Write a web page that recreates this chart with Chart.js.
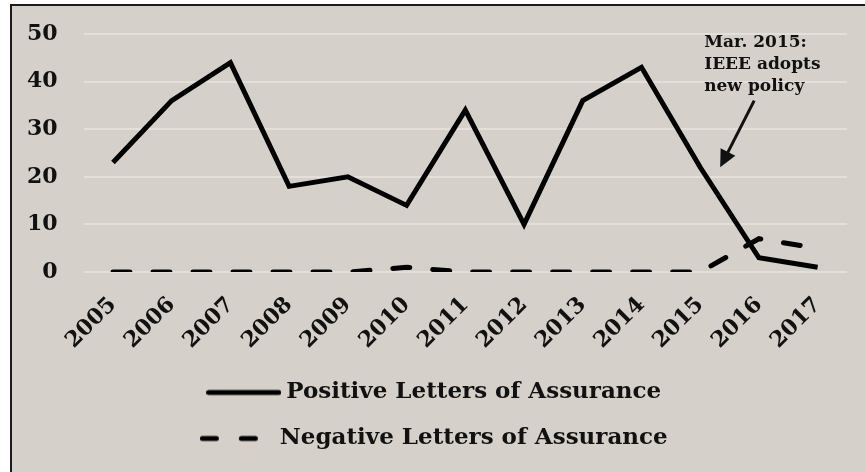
<!DOCTYPE html>
<html>
<head>
<meta charset="utf-8">
<script src="https://cdn.jsdelivr.net/npm/chart.js@4"></script>
<style>
    html, body { margin: 0; background: #ffffff; }
    #frame {
        position: absolute; left: 10px; top: 4px;
        width: 880px; height: 490px;
        border-top: 2px solid #1b1b1b; border-left: 2px solid #1b1b1b;
        background: #d5d1ca;
    }
    #chart { display: block; }
</style>
</head>
<body>
<div id="frame"><canvas id="chart" width="853" height="466"></canvas></div>
<script>
const years = ['2005', '2006', '2007', '2008', '2009', '2010', '2011', '2012', '2013', '2014', '2015', '2016', '2017'];
const positiveLetters = [23, 36, 44, 18, 20, 14, 34, 10, 36, 43, 22, 3, 1];
const negativeLetters = [0, 0, 0, 0, 0, 1, 0, 0, 0, 0, 0, 7, 5];
const seriesNames = ['Positive Letters of Assurance', 'Negative Letters of Assurance'];
const noteLines = ['Mar. 2015:', 'IEEE adopts', 'new policy'];
const noteYear = '2015';

const FONT = '"DejaVu Serif", "Liberation Serif", serif';

// small canvases used as legend symbols (solid / dashed line)
function lineSymbol(dash) {
    const c = document.createElement('canvas');
    c.width = 75;
    c.height = 10;
    const g = c.getContext('2d');
    g.strokeStyle = '#000';
    g.lineWidth = 5;
    g.lineCap = 'round';
    g.setLineDash(dash);
    g.beginPath();
    g.moveTo(2.5, 5);
    g.lineTo(72.5, 5);
    g.stroke();
    return c;
}
const symbols = [lineSymbol([]), lineSymbol([14, 25])];

const notePlugin = {
    id: 'note',
    afterDatasetsDraw(chart) {
        const ctx = chart.ctx;
        const x = chart.scales.x;
        const y = chart.scales.y;
        const x0 = x.getPixelForValue(years.indexOf(noteYear));
        ctx.save();
        ctx.fillStyle = '#111';
        ctx.font = 'bold 17px ' + FONT;
        ctx.textAlign = 'left';
        ctx.textBaseline = 'alphabetic';
        noteLines.forEach((t, i) => {
            ctx.fillText(t, x0 + 4, y.getPixelForValue(50) + 13 + i * 22);
        });

        // arrow
        const tx = x0 + 54, ty = y.getPixelForValue(36);
        const hx = x0 + 20, hy = y.getPixelForValue(22);
        const ang = Math.atan2(hy - ty, hx - tx);
        ctx.strokeStyle = '#111';
        ctx.lineWidth = 3;
        ctx.beginPath();
        ctx.moveTo(tx, ty);
        ctx.lineTo(hx - Math.cos(ang) * 12, hy - Math.sin(ang) * 12);
        ctx.stroke();
        ctx.beginPath();
        ctx.moveTo(hx, hy);
        ctx.lineTo(hx - Math.cos(ang - 0.45) * 19, hy - Math.sin(ang - 0.45) * 19);
        ctx.lineTo(hx - Math.cos(ang + 0.45) * 19, hy - Math.sin(ang + 0.45) * 19);
        ctx.closePath();
        ctx.fill();
        ctx.restore();
    }
};

new Chart(document.getElementById('chart'), {
    type: 'line',
    data: {
        labels: years,
        datasets: [
            {
                label: seriesNames[0],
                data: positiveLetters,
                borderColor: '#000',
                backgroundColor: '#000',
                borderWidth: 5,
                pointRadius: 0,
                tension: 0
            },
            {
                label: seriesNames[1],
                data: negativeLetters,
                borderColor: '#000',
                backgroundColor: '#000',
                borderWidth: 5,
                borderDash: [17, 23],
                borderCapStyle: 'round',
                pointRadius: 0,
                tension: 0
            }
        ]
    },
    options: {
        responsive: false,
        animation: false,
        layout: { padding: { left: 15, right: 18, top: 28, bottom: 12 } },
        scales: {
            x: {
                offset: true,
                grid: { display: false },
                border: { display: false },
                ticks: {
                    color: '#111',
                    font: { family: FONT, size: 22, weight: 'bold' },
                    minRotation: 45,
                    maxRotation: 45,
                    padding: 12
                },
                // rotated labels may overlap the y axis area, as in the original
                afterFit(scale) {
                    scale.paddingLeft = 0;
                    scale.paddingRight = 0;
                    scale.height -= 8;
                }
            },
            y: {
                min: 0,
                max: 50,
                grid: { color: '#e3e0dc', lineWidth: 2, drawTicks: false },
                border: { display: false },
                ticks: {
                    stepSize: 10,
                    color: '#111',
                    font: { family: FONT, size: 22, weight: 'bold' },
                    padding: 26
                },
                // chart.js counts the tick padding twice; keep only the inner gap
                afterFit(scale) {
                    scale.width -= 26;
                    scale.paddingTop = 0;
                    scale.paddingBottom = 0;
                }
            }
        },
        plugins: {
            tooltip: { enabled: false },
            legend: {
                position: 'bottom',
                labels: {
                    color: '#111',
                    font: { family: FONT, size: 23, weight: 'bold' },
                    usePointStyle: true,
                    pointStyleWidth: 62,
                    padding: 23,
                    generateLabels(chart) {
                        const items = Chart.defaults.plugins.legend.labels.generateLabels(chart);
                        items.forEach((it, i) => { it.pointStyle = symbols[i]; });
                        return items;
                    }
                }
            }
        }
    },
    plugins: [notePlugin]
});
</script>
</body>
</html>
